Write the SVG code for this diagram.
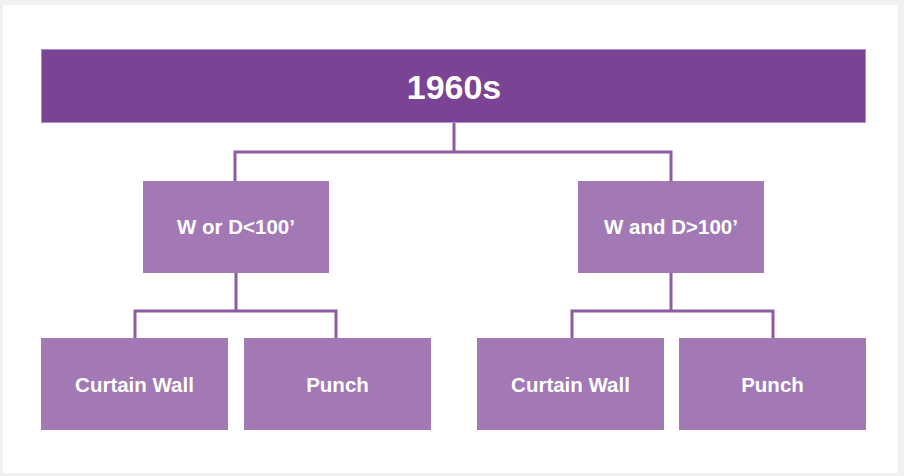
<svg xmlns="http://www.w3.org/2000/svg" width="904" height="476" viewBox="0 0 904 476">
<style>
.top{fill:#7b4393;stroke:#b58bc9;stroke-width:1}
.node{fill:#a279b4}
.lbl{font-family:"Liberation Sans",Arial,sans-serif;font-weight:bold;fill:#ffffff;text-anchor:middle}
.conn{fill:none;stroke:#8d5ca2;stroke-width:3}
</style>
<rect x="0" y="0" width="904" height="476" fill="#f1f1f1"/>
<rect x="3" y="5" width="895" height="468" fill="#ffffff"/>
<g id="connectors">
<path class="conn" d="M454 122 V152 M235 182 V152 H671 V182"/>
<path class="conn" d="M236 273 V311 M135 338 V311 H336 V338"/>
<path class="conn" d="M671 273 V311 M572 338 V311 H773 V338"/>
</g>
<g id="root">
<rect class="top" x="41.5" y="49.5" width="824" height="73"/>
<text class="lbl" x="454" y="99" font-size="34">1960s</text>
</g>
<g id="small">
<rect class="node" x="143" y="181" width="186" height="92"/>
<text class="lbl" x="236" y="234" font-size="20.5">W or D&lt;100’</text>
</g>
<g id="large">
<rect class="node" x="578" y="181" width="186" height="92"/>
<text class="lbl" x="671" y="234" font-size="20.5">W and D&gt;100’</text>
</g>
<g id="small-curtain">
<rect class="node" x="41" y="338" width="187" height="92"/>
<text class="lbl" x="134.5" y="391.5" font-size="20.5">Curtain Wall</text>
</g>
<g id="small-punch">
<rect class="node" x="244" y="338" width="187" height="92"/>
<text class="lbl" x="337.5" y="391.5" font-size="20.5">Punch</text>
</g>
<g id="large-curtain">
<rect class="node" x="477" y="338" width="187" height="92"/>
<text class="lbl" x="570.5" y="391.5" font-size="20.5">Curtain Wall</text>
</g>
<g id="large-punch">
<rect class="node" x="679" y="338" width="187" height="92"/>
<text class="lbl" x="772.5" y="391.5" font-size="20.5">Punch</text>
</g>
</svg>
